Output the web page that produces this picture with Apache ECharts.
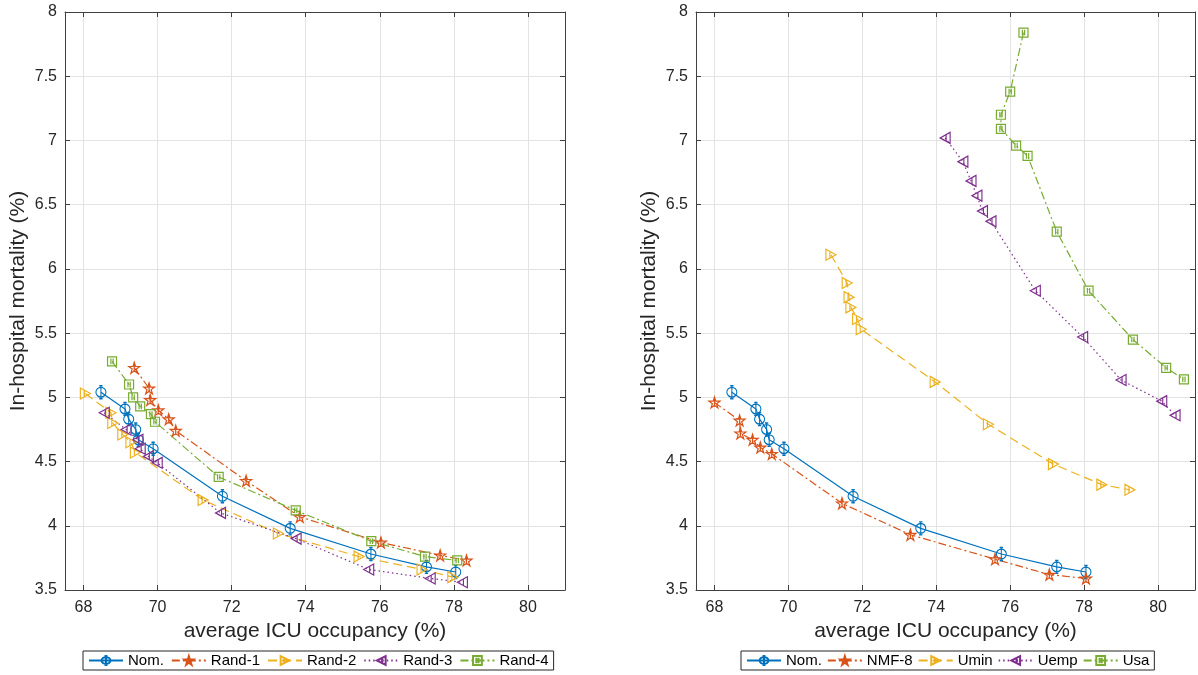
<!DOCTYPE html>
<html>
<head>
<meta charset="utf-8">
<script src="https://cdn.jsdelivr.net/npm/echarts@6/dist/echarts.min.js"></script>
<style>
  html, body { margin: 0; padding: 0; background: #fff; }
  #chart { width: 1198px; height: 675px; }
</style>
</head>
<body>
<div id="chart"></div>
<script>
// left panel
const xNom = [68.47, 69.12, 69.22, 69.41, 69.48, 69.88, 71.75, 73.58, 75.76, 77.26, 78.05];
const yNom = [5.04, 4.91, 4.83, 4.75, 4.67, 4.60, 4.23, 3.98, 3.78, 3.68, 3.64];
const xRand1 = [69.37, 69.77, 69.80, 70.02, 70.30, 70.49, 72.39, 73.84, 76.03, 77.63, 78.34];
const yRand1 = [5.23, 5.07, 4.98, 4.90, 4.83, 4.74, 4.35, 4.07, 3.87, 3.77, 3.73];
const xRand2 = [68.05, 68.74, 68.79, 69.06, 69.28, 69.40, 71.23, 73.26, 75.44, 77.14, 77.97];
const yRand2 = [5.03, 4.88, 4.80, 4.71, 4.65, 4.57, 4.20, 3.94, 3.76, 3.66, 3.60];
const xRand3 = [68.56, 69.15, 69.47, 69.53, 69.75, 69.99, 71.70, 73.74, 75.70, 77.36, 78.23];
const yRand3 = [4.88, 4.75, 4.67, 4.60, 4.54, 4.49, 4.10, 3.90, 3.66, 3.59, 3.56];
const xRand4 = [68.77, 69.23, 69.34, 69.53, 69.82, 69.93, 71.65, 73.73, 75.77, 77.22, 78.09];
const yRand4 = [5.28, 5.10, 5.00, 4.93, 4.87, 4.81, 4.38, 4.12, 3.88, 3.76, 3.73];

// right panel
const xNmf8 = [68.00, 68.68, 68.70, 69.03, 69.24, 69.55, 71.45, 73.30, 75.59, 77.06, 78.05];
const yNmf8 = [4.96, 4.82, 4.72, 4.67, 4.61, 4.56, 4.175, 3.93, 3.74, 3.62, 3.59];
const xUmin = [71.15, 71.59, 71.64, 71.69, 71.87, 71.97, 73.97, 75.41, 77.17, 78.48, 79.24];
const yUmin = [6.11, 5.89, 5.78, 5.70, 5.61, 5.53, 5.12, 4.79, 4.48, 4.32, 4.28];
const xUemp = [74.24, 74.72, 74.94, 75.10, 75.25, 75.48, 76.68, 77.96, 79.00, 80.10, 80.46];
const yUemp = [7.02, 6.835, 6.685, 6.57, 6.45, 6.37, 5.83, 5.47, 5.135, 4.97, 4.86];
const xUsa = [76.36, 76.00, 75.75, 75.75, 76.16, 76.47, 77.26, 78.12, 79.32, 80.22, 80.70];
const yUsa = [7.84, 7.38, 7.20, 7.09, 6.96, 6.88, 6.29, 5.83, 5.45, 5.23, 5.14];

const leftNames = ["Nom.", "Rand-1", "Rand-2", "Rand-3", "Rand-4"];
const rightNames = ["Nom.", "NMF-8", "Umin", "Uemp", "Usa"];

const C = ["#0072BD", "#D95319", "#EDB120", "#7E2F8E", "#77AC30"];
const TXT = "#262626";
const FONT = "Liberation Sans";

// markers with the small error bar through the middle
const SYM = {
  circle: "path://M4 10A6 6 0 1 0 16 10A6 6 0 1 0 4 10ZM10 2L10 18M8 2L12 2M8 18L12 18",
  star: "path://M10 0L12.25 6.91L19.51 6.91L13.63 11.18L15.88 18.09L10 13.82L4.12 18.09L6.37 11.18L0.49 6.91L7.75 6.91ZM10 4L10 16",
  right: "path://M3 2L18 10L3 18ZM9 5L9 15",
  left: "path://M17 2L2 10L17 18ZM11 5L11 15",
  square: "path://M2 2L18 2L18 18L2 18ZM8 5L8 15M12 5L12 15"
};

const DASHDOT = [8, 3, 2, 3];
const DASH = [9, 5];
const DOT = [1.5, 3];

const zip = (xs, ys) => xs.map((x, i) => [x, ys[i]]);

function line(name, xs, ys, color, dash, sym, size, axis) {
  return {
    name: name,
    type: "line",
    xAxisIndex: axis,
    yAxisIndex: axis,
    data: zip(xs, ys),
    symbol: sym,
    symbolSize: size,
    showAllSymbol: true,
    lineStyle: { color: color, width: 1.2, type: dash },
    itemStyle: { color: "rgba(255,255,255,0)", borderColor: color, borderWidth: 1.2 },
    emphasis: { disabled: true },
    z: 3
  };
}

const xBase = {
  type: "value",
  min: 67.5,
  max: 81,
  splitNumber: 7,
  axisLine: { show: true, onZero: false, lineStyle: { color: "#404040", width: 1 } },
  axisTick: { show: true, inside: true, length: 5, lineStyle: { color: "#404040" } },
  axisLabel: { show: true, showMinLabel: false, showMaxLabel: false, color: TXT, fontSize: 16, fontFamily: FONT, margin: 10 },
  splitLine: { show: true, lineStyle: { color: "#e3e3e3", width: 1 } },
  name: "average ICU occupancy (%)",
  nameLocation: "middle",
  nameGap: 29,
  nameTextStyle: { color: TXT, fontSize: 21, fontFamily: FONT }
};
const xTop = {
  type: "value",
  position: "top",
  min: 67.5,
  max: 81,
  splitNumber: 7,
  axisLine: { show: true, onZero: false, lineStyle: { color: "#404040", width: 1 } },
  axisTick: { show: true, inside: true, length: 5, lineStyle: { color: "#404040" } },
  axisLabel: { show: false },
  splitLine: { show: false }
};
const yBase = {
  type: "value",
  min: 3.5,
  max: 8,
  interval: 0.5,
  axisLine: { show: true, onZero: false, lineStyle: { color: "#404040", width: 1 } },
  axisTick: { show: true, inside: true, length: 5, lineStyle: { color: "#404040" } },
  axisLabel: { color: TXT, fontSize: 16, fontFamily: FONT, margin: 8 },
  splitLine: { show: true, lineStyle: { color: "#e3e3e3", width: 1 } },
  name: "In-hospital mortality (%)",
  nameLocation: "middle",
  nameGap: 36,
  nameTextStyle: { color: TXT, fontSize: 21, fontFamily: FONT }
};
const yRight = {
  type: "value",
  position: "right",
  min: 3.5,
  max: 8,
  interval: 0.5,
  axisLine: { show: true, onZero: false, lineStyle: { color: "#404040", width: 1 } },
  axisTick: { show: true, inside: true, length: 5, lineStyle: { color: "#404040" } },
  axisLabel: { show: false },
  splitLine: { show: false }
};

const legendBase = {
  top: 651,
  orient: "horizontal",
  itemWidth: 34,
  itemHeight: 11,
  itemGap: 7,
  padding: [2, 5],
  borderColor: "#262626",
  borderWidth: 1,
  backgroundColor: "#fff",
  selectedMode: false,
  textStyle: { color: "#000", fontSize: 15, fontFamily: FONT }
};

const chart = echarts.init(document.getElementById("chart"), null, { renderer: "canvas" });

const option = {
  animation: false,
  backgroundColor: "#fff",
  grid: [
    { left: 65, right: 633, top: 12, bottom: 85, containLabel: false },
    { left: 696, right: 3, top: 12, bottom: 85, containLabel: false }
  ],
  xAxis: [
    Object.assign({}, xBase, { gridIndex: 0 }),
    Object.assign({}, xTop, { gridIndex: 0 }),
    Object.assign({}, xBase, { gridIndex: 1 }),
    Object.assign({}, xTop, { gridIndex: 1 })
  ],
  yAxis: [
    Object.assign({}, yBase, { gridIndex: 0 }),
    Object.assign({}, yRight, { gridIndex: 0 }),
    Object.assign({}, yBase, { gridIndex: 1 }),
    Object.assign({}, yRight, { gridIndex: 1 })
  ],
  legend: [
    Object.assign({}, legendBase, { left: 83, data: leftNames }),
    Object.assign({}, legendBase, { left: 741, itemGap: 5, data: rightNames })
  ],
  series: [
    line("Nom.", xNom, yNom, C[0], "solid", SYM.circle, [10, 13], 0),
    line("Rand-1", xRand1, yRand1, C[1], DASHDOT, SYM.star, 11, 0),
    line("Rand-2", xRand2, yRand2, C[2], DASH, SYM.right, [10, 11], 0),
    line("Rand-3", xRand3, yRand3, C[3], DOT, SYM.left, [10, 11], 0),
    line("Rand-4", xRand4, yRand4, C[4], DASHDOT, SYM.square, 9, 0),

    line("Nom.", xNom, yNom, C[0], "solid", SYM.circle, [10, 13], 2),
    line("NMF-8", xNmf8, yNmf8, C[1], DASHDOT, SYM.star, 11, 2),
    line("Umin", xUmin, yUmin, C[2], DASH, SYM.right, [10, 11], 2),
    line("Uemp", xUemp, yUemp, C[3], DOT, SYM.left, [10, 11], 2),
    line("Usa", xUsa, yUsa, C[4], DASHDOT, SYM.square, 9, 2)
  ]
};

chart.setOption(option);
window.addEventListener("resize", () => chart.resize());
</script>
</body>
</html>
